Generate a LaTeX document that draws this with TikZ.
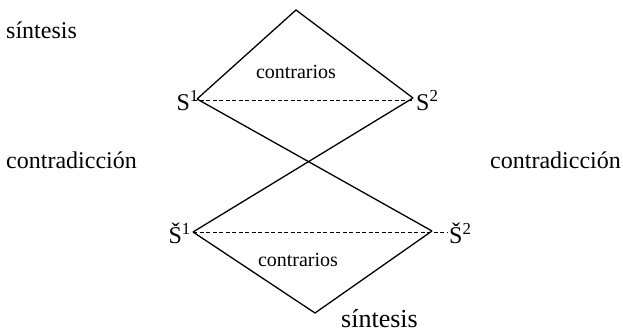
\documentclass[tikz,border=0pt]{standalone}
\usepackage{fontspec}
\setmainfont{Liberation Serif}
\begin{document}
\begin{tikzpicture}[x=1pt,y=-1pt,
  edge/.style={line width=1.3pt},
  dashline/.style={line width=0.9pt,dash pattern=on 4pt off 2.5pt},
  big/.style={font=\fontsize{24}{28}\selectfont,inner sep=0pt},
  small/.style={font=\fontsize{20}{24}\selectfont,inner sep=0pt}]
\useasboundingbox (0,0) rectangle (623,334);
% vertices
\coordinate (top) at (296,10);
\coordinate (a1) at (197,99);
\coordinate (a2) at (413,98);
\coordinate (b1) at (193,232);
\coordinate (b2) at (432,231);
\coordinate (bot) at (315,313);
\coordinate (a1d) at (193,100);
\coordinate (a2d) at (414,100);
\coordinate (b2d) at (448,232);
% labels
\node[big,anchor=east] (s1) at (199,101) {S\textsuperscript{1}};
\node[big,anchor=west] (s2) at (416,101) {S\textsuperscript{2}};
\node[big,anchor=east] (t1) at (191,233) {\v{S}\textsuperscript{1}};
\node[big,anchor=west] (t2) at (449,233) {\v{S}\textsuperscript{2}};
\node[small] (c1) at (296,72) {contrarios};
\node[small] (c2) at (298,260) {contrarios};
\node[big,anchor=west] (syn1) at (6,30) {síntesis};
\node[font=\fontsize{26}{30}\selectfont,inner sep=0pt,anchor=west] (syn2) at (341,319) {síntesis};
\node[big,anchor=west] (k1) at (6,160) {contradicción};
\node[big,anchor=east] (k2) at (621,160) {contradicción};
% lines
\draw[edge] (a1) -- (top) -- (a2);
\draw[edge] (a1) -- (b2);
\draw[edge] (a2) -- (b1);
\draw[edge] (b1) -- (bot) -- (b2);
\draw[dashline] (a1d) -- (a2d);
\draw[dashline] (b1) -- (b2d);
\end{tikzpicture}
\end{document}
